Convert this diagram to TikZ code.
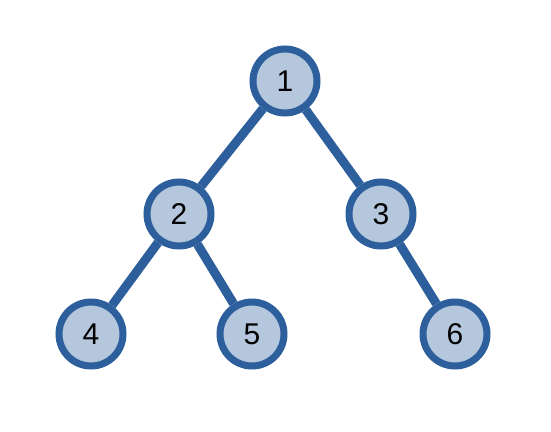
\documentclass[tikz,border=0pt]{standalone}
\usepackage{fontspec}
\setmainfont{Liberation Sans}
\definecolor{nodefill}{HTML}{B4C7DC}
\definecolor{nodeline}{HTML}{2C5F9C}
\begin{document}
\begin{tikzpicture}[x=1pt,y=-1pt,
  treenode/.style={circle,draw=nodeline,fill=nodefill,line width=7pt,minimum size=64pt,inner sep=0pt,font=\fontsize{30}{30}\selectfont},
  edge/.style={draw=nodeline,line width=9pt}]
\useasboundingbox (0,0) rectangle (551,431);
\node[treenode] (n1) at (285,81) {1};
\node[treenode] (n2) at (179,214) {2};
\node[treenode] (n3) at (381,214) {3};
\node[treenode] (n4) at (91,334) {4};
\node[treenode] (n5) at (252,334) {5};
\node[treenode] (n6) at (455,334) {6};
\draw[edge] (n1) -- (n2);
\draw[edge] (n1) -- (n3);
\draw[edge] (n2) -- (n4);
\draw[edge] (n2) -- (n5);
\draw[edge] (n3) -- (n6);
\end{tikzpicture}
\end{document}
